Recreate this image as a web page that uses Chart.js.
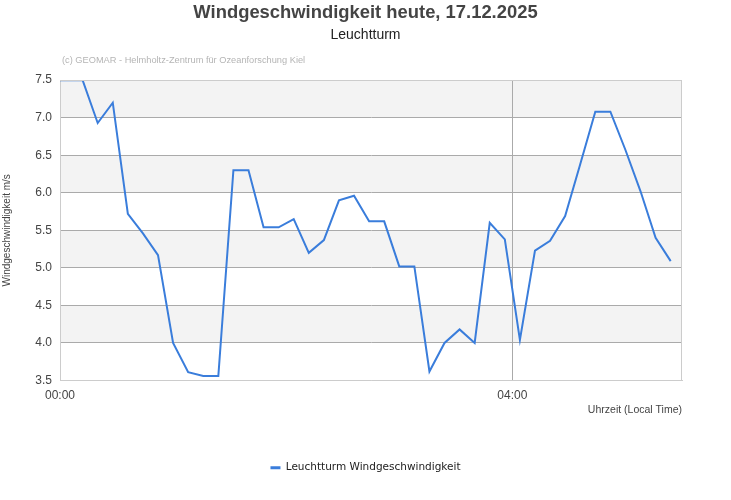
<!DOCTYPE html>
<html>
<head>
<meta charset="utf-8">
<script src="https://cdn.jsdelivr.net/npm/chart.js@4"></script>
<style>
  html, body { margin: 0; padding: 0; background: #ffffff; }
  #wrap { width: 731px; height: 500px; }
</style>
</head>
<body>
<div id="wrap"><canvas id="c" width="731" height="500"></canvas></div>
<script>
// ---- data ----
const chartTitle = 'Windgeschwindigkeit heute, 17.12.2025';
const chartSubtitle = 'Leuchtturm';
const watermark = '(c) GEOMAR - Helmholtz-Zentrum für Ozeanforschung Kiel';
const seriesName = 'Leuchtturm Windgeschwindigkeit';
const yAxisTitle = 'Windgeschwindigkeit m/s';
const xAxisTitle = 'Uhrzeit (Local Time)';
// minutes after midnight
const timeMinutes = [0, 4, 12, 20, 28, 36, 44, 52, 60, 68, 76, 84, 92, 100, 108, 116, 124, 132, 140, 148,
  156, 164, 172, 180, 188, 196, 204, 212, 220, 228, 236, 244, 252, 260, 268, 276, 284, 292, 300, 308, 316, 324];
const windSpeed = [7.5, 7.5, 7.5, 6.93, 7.20, 5.72, 5.46, 5.17, 4.00, 3.61, 3.56, 3.56, 6.30, 6.30, 5.54, 5.54, 5.65, 5.20, 5.37, 5.90,
  5.96, 5.62, 5.62, 5.02, 5.02, 3.62, 4.00, 4.18, 4.00, 5.60, 5.38, 4.04, 5.23, 5.36, 5.69, 6.38, 7.08, 7.08, 6.57, 6.02, 5.40, 5.09];
const xTickValues = [0, 240];      // 00:00, 04:00
const xRange = [0, 330];
const yTickValues = [3.5, 4.0, 4.5, 5.0, 5.5, 6.0, 6.5, 7.0, 7.5];

const fontFamily = '"Liberation Sans", Arial, sans-serif';
const lineColor = '#3a7ddb';

function fmtTime(m) {
  const h = Math.floor(m / 60), mm = Math.round(m % 60);
  return String(h).padStart(2, '0') + ':' + String(mm).padStart(2, '0');
}

const bandsPlugin = {
  id: 'bands',
  beforeDraw(chart) {
    const {ctx, chartArea: a, scales: {y}} = chart;
    ctx.save();
    const ticks = y.ticks.map(t => t.value).sort((p, q) => q - p);
    for (let i = 0; i < ticks.length - 1; i++) {
      if (i % 2 === 0) {
        const top = y.getPixelForValue(ticks[i]);
        const bot = y.getPixelForValue(ticks[i + 1]);
        ctx.fillStyle = '#f3f3f3';
        ctx.fillRect(a.left, top, a.right - a.left, bot - top);
      }
    }
    ctx.restore();
  },
  afterDraw(chart) {
    const {ctx, chartArea: a} = chart;
    ctx.save();
    ctx.strokeStyle = '#cccccc';
    ctx.lineWidth = 1;
    ctx.beginPath();
    ctx.moveTo(a.left, Math.round(a.top) + 0.5);
    ctx.lineTo(a.right, Math.round(a.top) + 0.5);
    ctx.moveTo(Math.round(a.right) - 0.5, a.top);
    ctx.lineTo(Math.round(a.right) - 0.5, a.bottom);
    ctx.stroke();
    ctx.fillStyle = '#b5b5b5';
    ctx.font = '9.25px ' + fontFamily;
    ctx.textAlign = 'left';
    ctx.textBaseline = 'middle';
    ctx.fillText(watermark, 62, 60);
    ctx.restore();
  }
};

new Chart(document.getElementById('c'), {
  type: 'line',
  data: {
    datasets: [{
      label: seriesName,
      data: timeMinutes.map((t, i) => ({x: t, y: windSpeed[i]})),
      borderColor: lineColor,
      backgroundColor: lineColor,
      borderWidth: 2,
      pointRadius: 0,
      pointHoverRadius: 0,
      tension: 0,
      fill: false
    }]
  },
  options: {
    responsive: false,
    animation: false,
    events: [],
    layout: { padding: { left: 0, right: 0, top: 0, bottom: 17 } },
    plugins: {
      title: {
        display: true, text: chartTitle, color: '#444444',
        font: { family: fontFamily, size: 18.4, weight: 'bold' },
        padding: { top: 1.5, bottom: 0 }
      },
      subtitle: {
        display: true, text: chartSubtitle, color: '#222222',
        font: { family: fontFamily, size: 14 },
        padding: { top: 3.5, bottom: 36.3 }
      },
      legend: {
        display: true, position: 'bottom',
        labels: {
          color: '#222222',
          font: { family: '"DejaVu Sans", sans-serif', size: 10.5 },
          boxWidth: 10, boxHeight: 3, padding: 42,
          generateLabels(chart) {
            const items = Chart.defaults.plugins.legend.labels.generateLabels(chart);
            items.forEach(it => { it.lineWidth = 0; it.fillStyle = lineColor; });
            return items;
          }
        }
      },
      tooltip: { enabled: false }
    },
    scales: {
      x: {
        type: 'linear', min: xRange[0], max: xRange[1],
        afterBuildTicks(scale) { scale.ticks = xTickValues.map(v => ({value: v})); },
        afterFit(scale) { scale.height = 40; },
        ticks: {
          color: '#444444', font: { family: fontFamily, size: 12 }, padding: 8,
          maxRotation: 0, autoSkip: false,
          callback: v => fmtTime(v)
        },
        grid: {
          drawTicks: false,
          color: ctx => (ctx.tick && ctx.tick.value === xRange[0]) ? '#cccccc' : '#aaaaaa',
          lineWidth: 1
        },
        border: { display: true, color: '#cccccc' },
        title: {
          display: true, text: xAxisTitle, align: 'end', color: '#444444',
          font: { family: fontFamily, size: 10.5 }, padding: { top: 0, bottom: 4 }
        }
      },
      y: {
        type: 'linear', min: 3.5, max: 7.5,
        afterBuildTicks(scale) { scale.ticks = yTickValues.map(v => ({value: v})); },
        afterFit(scale) { scale.width = 60; },
        ticks: {
          color: '#444444', font: { family: fontFamily, size: 12 }, padding: 8,
          callback: v => Number(v).toFixed(1)
        },
        grid: {
          drawTicks: false,
          color: ctx => (ctx.tick && (ctx.tick.value === 3.5 || ctx.tick.value === 7.5)) ? '#cccccc' : '#aaaaaa',
          lineWidth: 1
        },
        border: { display: true, color: '#cccccc' },
        title: {
          display: true, text: yAxisTitle, color: '#444444',
          font: { family: fontFamily, size: 10 }, padding: { top: 1, bottom: 0 }
        }
      },
      y2: {
        type: 'linear', position: 'right', display: true,
        afterFit(scale) { scale.width = 49; },
        ticks: { display: false },
        grid: { display: false, drawTicks: false },
        border: { display: false }
      }
    }
  },
  plugins: [bandsPlugin]
});
</script>
</body>
</html>
